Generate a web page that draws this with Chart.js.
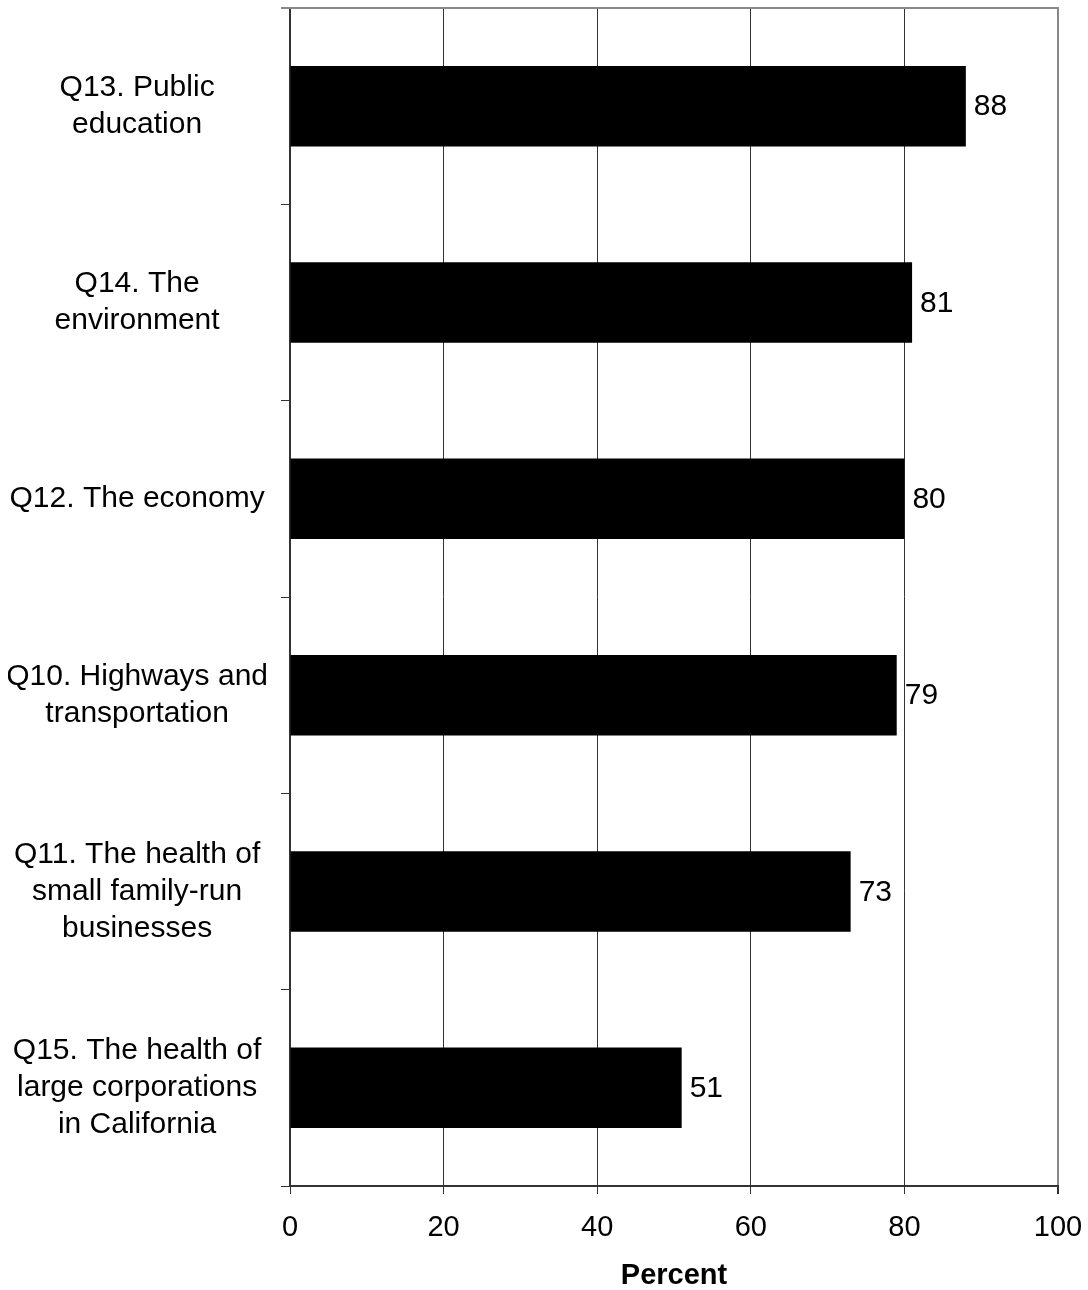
<!DOCTYPE html>
<html>
<head>
<meta charset="utf-8">
<script src="https://cdn.jsdelivr.net/npm/chart.js@4/dist/chart.umd.min.js"></script>
<style>
  body { margin: 0; background: #fff; }
  #wrap { width: 1088px; height: 1290px; }
</style>
</head>
<body>
<div id="wrap"><canvas id="barChart" width="1088" height="1290"></canvas></div>
<script>
// categories (top to bottom) and their percentages
const categories = [
    ["Q13. Public", "education"],
    ["Q14. The", "environment"],
    ["Q12. The economy"],
    ["Q10. Highways and", "transportation"],
    ["Q11. The health of", "small family-run", "businesses"],
    ["Q15. The health of", "large corporations", "in California"]
];
const percents = [88, 81, 80, 79, 73, 51];
const xTicks = [0, 20, 40, 60, 80, 100];
const xTitle = "Percent";

const FONT = "'Liberation Sans', Arial, sans-serif";

// value labels at the end of each bar
const valueLabels = {
    id: "valueLabels",
    afterDatasetsDraw(chart) {
        const ctx = chart.ctx;
        const meta = chart.getDatasetMeta(0);
        ctx.save();
        ctx.font = "30px " + FONT;
        ctx.fillStyle = "#000";
        ctx.textAlign = "left";
        ctx.textBaseline = "middle";
        meta.data.forEach((bar, i) => {
            ctx.fillText(String(percents[i]), bar.x + 8, bar.y + 1);
        });
        ctx.restore();
    }
};

// gray frame on top of the plot area
const topBorder = {
    id: "topBorder",
    afterDraw(chart) {
        const a = chart.chartArea;
        const ctx = chart.ctx;
        ctx.save();
        ctx.strokeStyle = "#888";
        ctx.lineWidth = 2;
        ctx.beginPath();
        ctx.moveTo(a.left - 9, a.top);
        ctx.lineTo(a.right + 1, a.top);
        ctx.stroke();
        ctx.restore();
    }
};

const ctx = document.getElementById("barChart").getContext("2d");
new Chart(ctx, {
    type: "bar",
    data: {
        labels: categories,
        datasets: [{
            data: percents,
            backgroundColor: "#000",
            borderWidth: 0,
            barPercentage: 0.41,
            categoryPercentage: 1
        }]
    },
    options: {
        indexAxis: "y",
        responsive: false,
        animation: false,
        layout: { padding: { left: 8, top: 8, right: 30, bottom: 0 } },
        plugins: {
            legend: { display: false },
            tooltip: { enabled: false }
        },
        scales: {
            x: {
                min: 0,
                max: 100,
                afterBuildTicks: (scale) => { scale.ticks = xTicks.map(v => ({ value: v })); },
                afterFit: (scale) => {
                    scale.height = 104;
                    scale.paddingLeft = 0;
                    scale.paddingRight = 0;
                },
                grid: {
                    color: (c) => (c.tick && c.tick.value === 100 ? "#888" : "#333"),
                    lineWidth: (c) => (c.tick && c.tick.value === 100 ? 2 : 1),
                    tickLength: 8,
                    tickColor: "#333"
                },
                border: { color: "#333", width: 2 },
                ticks: {
                    color: "#000",
                    font: { family: FONT, size: 29, lineHeight: 1 },
                    padding: 19,
                    maxRotation: 0
                },
                title: {
                    display: true,
                    text: xTitle,
                    color: "#000",
                    font: { family: FONT, size: 29, weight: "bold", lineHeight: 1 },
                    padding: { top: 18, bottom: 0 }
                }
            },
            y: {
                afterFit: (scale) => {
                    scale.width = 282;
                    scale.paddingTop = 0;
                    scale.paddingBottom = 0;
                },
                grid: {
                    drawOnChartArea: false,
                    drawTicks: true,
                    tickLength: 9,
                    tickColor: "#333",
                    offset: true
                },
                border: { color: "#333", width: 2 },
                ticks: {
                    color: "#000",
                    crossAlign: "center",
                    padding: 13,
                    font: { family: FONT, size: 30, lineHeight: 1.23 }
                }
            }
        }
    },
    plugins: [valueLabels, topBorder]
});
</script>
</body>
</html>
